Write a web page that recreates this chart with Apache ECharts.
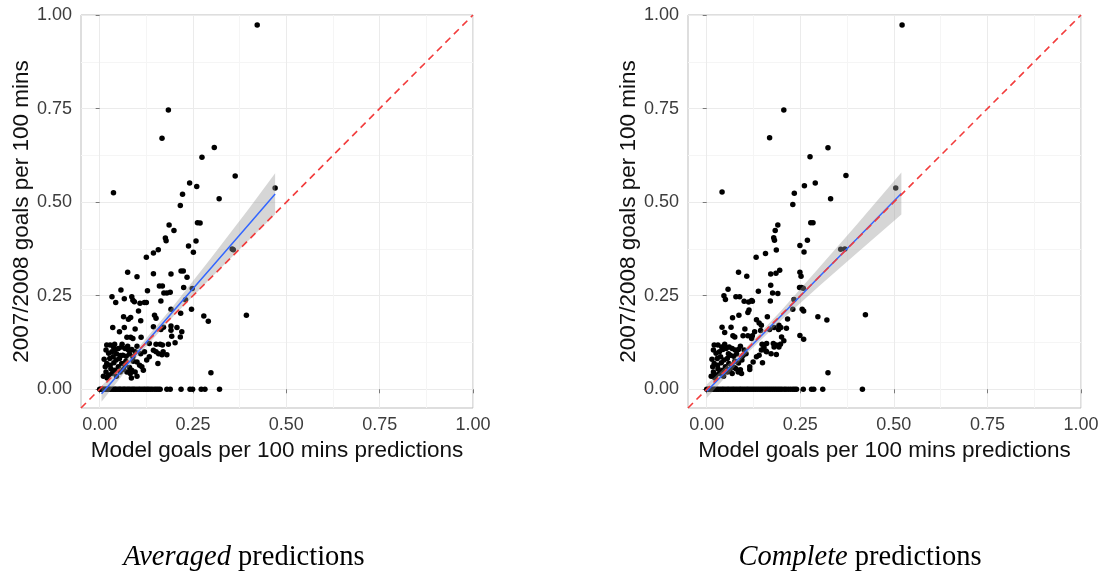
<!DOCTYPE html>
<html>
<head>
<meta charset="utf-8">
<script src="https://cdn.jsdelivr.net/npm/echarts@6/dist/echarts.min.js"></script>
<style>
html,body{margin:0;padding:0;background:#fff;}
#chart{width:1108px;height:573px;}
</style>
</head>
<body>
<div id="chart"></div>
<script>
// ---------------- DATA ----------------
const tickValues = [0, 0.25, 0.5, 0.75, 1.0];
const minorValues = [0.125, 0.375, 0.625, 0.875];
const axisRange = [-0.05, 1.0];
const xTitle = 'Model goals per 100 mins predictions';
const yTitle = '2007/2008 goals per 100 mins';
const captions = ['Averaged', 'Complete'];
const captionRest = ' predictions';

// Averaged predictions: non-zero observed points [prediction, actual]
const avgPoints = [
[0.422,0.973],[0.184,0.746],[0.167,0.671],[0.307,0.646],[0.274,0.620],[0.363,0.570],[0.037,0.525],[0.470,0.538],
[0.222,0.521],[0.241,0.551],[0.260,0.542],[0.320,0.509],[0.216,0.491],[0.186,0.439],[0.199,0.424],[0.269,0.444],
[0.262,0.445],[0.176,0.404],[0.178,0.397],[0.238,0.383],[0.258,0.396],[0.251,0.366],[0.157,0.373],[0.144,0.364],
[0.125,0.353],[0.355,0.375],[0.358,0.373],[0.075,0.313],[0.100,0.301],[0.144,0.309],[0.191,0.308],[0.218,0.316],
[0.224,0.316],[0.234,0.299],[0.225,0.272],[0.248,0.269],[0.160,0.276],[0.168,0.276],[0.128,0.263],[0.172,0.257],
[0.180,0.257],[0.189,0.259],[0.057,0.265],[0.033,0.247],[0.043,0.232],[0.066,0.242],[0.086,0.247],[0.089,0.238],
[0.093,0.234],[0.108,0.230],[0.120,0.232],[0.125,0.232],[0.164,0.236],[0.230,0.239],[0.191,0.214],[0.217,0.203],
[0.246,0.214],[0.104,0.209],[0.064,0.194],[0.083,0.192],[0.077,0.187],[0.110,0.183],[0.147,0.198],[0.151,0.190],
[0.279,0.196],[0.291,0.182],[0.393,0.198],
[0.035,0.165],[0.053,0.154],[0.066,0.165],[0.095,0.161],[0.073,0.139],[0.083,0.139],[0.089,0.136],[0.111,0.139],
[0.144,0.167],[0.164,0.160],[0.171,0.166],[0.191,0.169],[0.191,0.158],[0.207,0.165],[0.220,0.154],[0.216,0.140],
[0.193,0.142],[0.133,0.122],[0.151,0.120],[0.162,0.120],[0.168,0.118],[0.184,0.120],[0.202,0.124],[0.144,0.104],
[0.151,0.100],[0.158,0.095],[0.167,0.092],[0.180,0.092],[0.170,0.100],[0.133,0.087],[0.126,0.078],[0.156,0.069],
[0.298,0.044],
[0.019,0.118],[0.028,0.118],[0.037,0.113],[0.017,0.105],[0.024,0.096],[0.033,0.100],[0.041,0.106],[0.050,0.109],
[0.059,0.113],[0.068,0.109],[0.077,0.105],[0.086,0.106],[0.095,0.100],[0.027,0.082],[0.036,0.087],[0.044,0.078],
[0.053,0.082],[0.062,0.091],[0.071,0.088],[0.080,0.094],[0.089,0.087],[0.019,0.069],[0.028,0.064],[0.038,0.071],
[0.050,0.060],[0.059,0.069],[0.068,0.064],[0.080,0.058],[0.086,0.051],[0.082,0.042],[0.073,0.046],[0.064,0.053],
[0.017,0.046],[0.024,0.038],[0.033,0.042],[0.041,0.051],[0.055,0.046],[0.095,0.046],[0.107,0.064],[0.113,0.060],
[0.117,0.051],[0.100,0.073],[0.010,0.035],[0.020,0.030],[0.045,0.035],[0.030,0.055],[0.012,0.080],[0.040,0.120],
[0.060,0.120],[0.075,0.115],[0.100,0.115],[0.110,0.095],[0.120,0.100],[0.045,0.095],[0.055,0.090],[0.015,0.060],
[0.070,0.075],[0.090,0.075],[0.100,0.035],[0.085,0.030]
];
// Averaged predictions: players with zero observed goals (prediction values)
const avgZeroX = [0.000,0.003,0.007,0.010,0.014,0.017,0.021,0.025,0.028,0.033,0.037,0.041,0.044,0.049,0.053,0.056,
0.061,0.065,0.068,0.073,0.077,0.081,0.086,0.090,0.094,0.099,0.104,0.108,0.113,0.118,0.122,0.127,0.131,0.136,0.141,
0.147,0.152,0.157,0.162,0.180,0.189,0.218,0.242,0.249,0.272,0.282,0.321];
// Averaged predictions: fitted line and band
const avgFitX = [0.005, 0.10, 0.20, 0.30, 0.40, 0.47];
const avgFitY = [-0.012, 0.097, 0.212, 0.326, 0.441, 0.522];
const avgBandLo = [-0.033, 0.087, 0.198, 0.299, 0.399, 0.467];
const avgBandHi = [0.009, 0.107, 0.226, 0.353, 0.483, 0.577];

// Complete predictions
const compPoints = [
[0.522,0.973],[0.206,0.746],[0.168,0.672],[0.324,0.645],[0.276,0.621],[0.372,0.571],[0.041,0.527],[0.505,0.538],
[0.331,0.509],[0.230,0.494],[0.234,0.524],[0.261,0.544],[0.290,0.551],[0.190,0.439],[0.183,0.424],[0.278,0.445],
[0.284,0.445],[0.269,0.398],[0.249,0.384],[0.260,0.367],[0.186,0.372],[0.179,0.405],[0.181,0.398],[0.157,0.363],
[0.132,0.353],[0.358,0.374],[0.369,0.375],[0.085,0.313],[0.107,0.302],[0.171,0.308],[0.195,0.318],[0.185,0.310],
[0.249,0.313],[0.252,0.302],
[0.138,0.262],[0.190,0.256],[0.171,0.278],[0.176,0.257],[0.248,0.272],[0.253,0.272],[0.258,0.270],[0.233,0.240],
[0.057,0.267],[0.046,0.250],[0.050,0.240],[0.078,0.247],[0.088,0.247],[0.100,0.235],[0.112,0.233],[0.120,0.237],
[0.122,0.235],[0.170,0.236],[0.230,0.214],[0.255,0.214],[0.259,0.209],[0.113,0.212],[0.110,0.205],
[0.069,0.191],[0.086,0.198],[0.133,0.186],[0.140,0.177],[0.162,0.194],[0.193,0.171],[0.198,0.165],[0.213,0.163],
[0.216,0.188],[0.297,0.194],[0.321,0.185],[0.424,0.199],[0.041,0.166],[0.048,0.152],[0.065,0.166],[0.102,0.161],
[0.144,0.157],[0.168,0.160],[0.180,0.165],[0.192,0.160],[0.128,0.154],[0.146,0.171],
[0.070,0.143],[0.075,0.140],[0.097,0.143],[0.110,0.143],[0.122,0.143],[0.120,0.136],[0.200,0.140],[0.206,0.130],
[0.148,0.120],[0.153,0.112],[0.180,0.113],[0.193,0.113],[0.160,0.122],[0.178,0.122],[0.186,0.118],[0.197,0.120],
[0.249,0.144],[0.259,0.134],[0.146,0.105],[0.158,0.102],[0.172,0.095],[0.186,0.093],
[0.160,0.100],[0.140,0.091],[0.133,0.087],[0.124,0.073],[0.115,0.060],[0.115,0.053],[0.149,0.071],[0.097,0.090],
[0.094,0.078],[0.090,0.052],[0.093,0.042],[0.078,0.055],[0.084,0.046],[0.324,0.044],
[0.020,0.118],[0.030,0.118],[0.040,0.113],[0.018,0.105],[0.025,0.096],[0.034,0.100],[0.043,0.106],[0.052,0.109],
[0.060,0.113],[0.068,0.109],[0.076,0.105],[0.085,0.106],[0.028,0.082],[0.037,0.087],[0.046,0.078],[0.055,0.082],
[0.063,0.091],[0.072,0.088],[0.080,0.094],[0.020,0.069],[0.029,0.064],[0.039,0.071],[0.050,0.060],[0.059,0.069],
[0.067,0.064],[0.074,0.058],[0.062,0.053],[0.018,0.046],[0.024,0.038],[0.033,0.042],[0.042,0.051],[0.055,0.046],
[0.068,0.042],[0.012,0.035],[0.022,0.030],[0.045,0.035],[0.030,0.055],[0.014,0.080],[0.048,0.120],[0.058,0.095],
[0.016,0.060],[0.075,0.075],[0.085,0.070],[0.090,0.115],[0.100,0.105],[0.105,0.095]
];
const compZeroX = [0.000,0.004,0.009,0.013,0.018,0.022,0.027,0.031,0.036,0.041,0.045,0.050,0.055,0.059,0.064,0.069,
0.073,0.078,0.083,0.088,0.092,0.097,0.102,0.107,0.111,0.116,0.121,0.126,0.131,0.136,0.141,0.146,0.151,0.156,0.161,
0.166,0.171,0.176,0.181,0.186,0.191,0.196,0.201,0.207,0.212,0.218,0.224,0.230,0.235,0.240,0.258,0.280,0.286,0.310,0.416];
const compFitX = [0.000, 0.10, 0.20, 0.30, 0.40, 0.52];
const compFitY = [-0.005, 0.097, 0.198, 0.300, 0.401, 0.523];
const compBandLo = [-0.023, 0.088, 0.185, 0.275, 0.363, 0.467];
const compBandHi = [0.013, 0.106, 0.211, 0.325, 0.439, 0.579];

// identity reference line
const diagX = [-0.05, 1.0];
const diagY = [-0.05, 1.0];

// ---------------- CHART ----------------
const FONT = 'Liberation Sans, Arial, Helvetica, sans-serif';
const SERIF = '"Liberation Serif", "Times New Roman", serif';
const chart = echarts.init(document.getElementById('chart'), null, {renderer: 'canvas'});

const grids = [
  {left: 81, top: 15, width: 392, height: 393},
  {left: 688, top: 15, width: 393, height: 393}
];

function majorAxis(dim, g) {
  const isX = dim === 'x';
  return {
    type: 'value', gridIndex: g, min: axisRange[0], max: axisRange[1],
    name: isX ? xTitle : yTitle,
    nameLocation: 'middle',
    nameGap: isX ? 28 : 37,
    nameTextStyle: {fontSize: 22.5, color: '#111', fontFamily: FONT},
    axisLine: {show: false},
    axisTick: {show: true, customValues: tickValues, length: 4, lineStyle: {color: '#7a7a7a', width: 1}},
    axisLabel: {customValues: tickValues, formatter: v => v.toFixed(2), fontSize: 18, color: '#3c3c3c',
                fontFamily: FONT, margin: isX ? 8 : 9},
    splitLine: {show: true, lineStyle: {color: '#ebebeb', width: 1}}
  };
}
function minorAxis(g) {
  return {
    type: 'value', gridIndex: g, min: axisRange[0], max: axisRange[1],
    axisLine: {show: false},
    axisTick: {show: false, customValues: minorValues},
    axisLabel: {show: false},
    splitLine: {show: true, lineStyle: {color: '#f5f5f5', width: 1}}
  };
}

function bandSeries(xi, yi, xs, lo, hi) {
  return {
    type: 'custom', xAxisIndex: xi, yAxisIndex: yi, z: 3,
    data: xs.map((x, i) => [x, lo[i], hi[i]]),
    encode: {x: 0, y: [1, 2]},
    renderItem: function (params, api) {
      if (params.dataIndex !== 0) return null;
      const pts = [];
      for (let i = 0; i < xs.length; i++) pts.push(api.coord([xs[i], hi[i]]));
      for (let i = xs.length - 1; i >= 0; i--) pts.push(api.coord([xs[i], lo[i]]));
      return {type: 'polygon', shape: {points: pts}, style: {fill: 'rgba(153,153,153,0.4)'}};
    },
    silent: true
  };
}

function panelSeries(xi, yi, pts, zeroX, fx, fy, lo, hi) {
  return [
    {type: 'scatter', xAxisIndex: xi, yAxisIndex: yi, symbolSize: 5.5, z: 2,
     itemStyle: {color: '#000', opacity: 1}, data: pts},
    {type: 'scatter', xAxisIndex: xi, yAxisIndex: yi, symbolSize: 5.5, z: 2,
     itemStyle: {color: '#000', opacity: 1}, data: zeroX.map(x => [x, 0])},
    bandSeries(xi, yi, fx, lo, hi),
    {type: 'line', xAxisIndex: xi, yAxisIndex: yi, z: 4, symbol: 'none', silent: true,
     lineStyle: {color: '#3366ff', width: 1.5}, data: fx.map((x, i) => [x, fy[i]])},
    {type: 'line', xAxisIndex: xi, yAxisIndex: yi, z: 5, symbol: 'none', silent: true, clip: true,
     lineStyle: {color: '#f23c3c', width: 1.6, type: [7, 5]}, data: diagX.map((x, i) => [x, diagY[i]])}
  ];
}

const option = {
  animation: false,
  backgroundColor: '#ffffff',
  grid: grids.map(g => Object.assign({show: true, borderColor: '#bdbdbd', borderWidth: 1,
                                      backgroundColor: '#ffffff', containLabel: false}, g)),
  xAxis: [majorAxis('x', 0), minorAxis(0), majorAxis('x', 1), minorAxis(1)],
  yAxis: [majorAxis('y', 0), minorAxis(0), majorAxis('y', 1), minorAxis(1)],
  series: [].concat(
    panelSeries(0, 0, avgPoints, avgZeroX, avgFitX, avgFitY, avgBandLo, avgBandHi),
    panelSeries(2, 2, compPoints, compZeroX, compFitX, compFitY, compBandLo, compBandHi)
  ),
  graphic: captions.map((c, i) => ({
    type: 'text', x: i === 0 ? 244 : 860, y: 558,
    style: {
      text: '{it|' + c + '}' + captionRest,
      align: 'center', verticalAlign: 'middle',
      font: '28.5px ' + SERIF,
      fill: '#000',
      rich: {it: {fontStyle: 'italic', fontSize: 28.5, fontFamily: SERIF, fill: '#000'}}
    }
  }))
};
chart.setOption(option);
</script>
</body>
</html>
